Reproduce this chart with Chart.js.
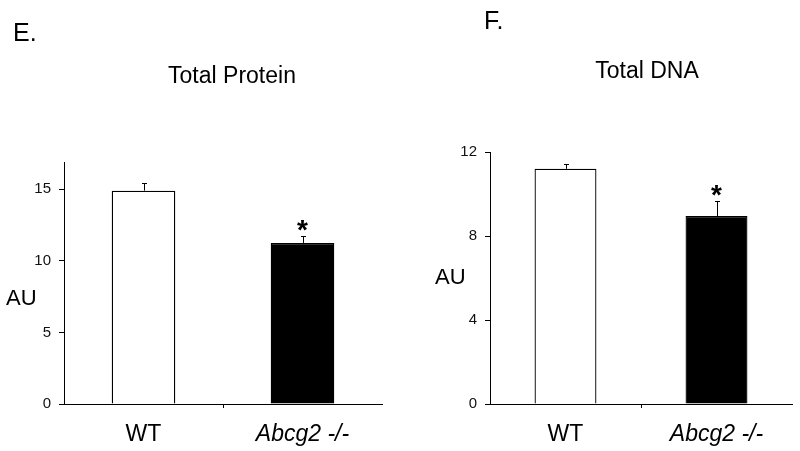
<!DOCTYPE html>
<html lang="en">
<head>
  <meta charset="UTF-8">
  <title>Total Protein / Total DNA</title>
  <script src="https://cdn.jsdelivr.net/npm/chart.js"></script>
  <style>
    body {
      margin: 0;
      background: #fff;
      font-family: "Liberation Sans", Arial, sans-serif;
    }
    .figure {
      position: relative;
      width: 800px;
      height: 451px;
      overflow: hidden;
    }
    .figure canvas {
      position: absolute;
      top: 0;
    }
    .txt {
      position: absolute;
      white-space: nowrap;
      color: #000;
    }
    .panel { font-size: 25px; line-height: 25px; }
    .title { font-size: 23px; line-height: 23px; transform: translateX(-50%); }
    .au { font-size: 22px; line-height: 22px; }
  </style>
</head>
<body>
  <div class="figure">
    <canvas id="proteinChart" width="400" height="451" style="left:0"></canvas>
    <canvas id="dnaChart" width="400" height="451" style="left:400px"></canvas>

    <div class="txt panel" style="left:13px; top:20px">E.</div>
    <div class="txt panel" style="left:484px; top:8px">F.</div>
    <div class="txt title" style="left:232px; top:64px">Total Protein</div>
    <div class="txt title" style="left:647px; top:59px">Total DNA</div>
    <div class="txt au" style="left:6px; top:287px">AU</div>
    <div class="txt au" style="left:435px; top:266px">AU</div>
  </div>

  <script>
    // values
    const categories = ['WT', 'Abcg2 -/-'];
    const proteinValues = [14.9, 11.25];
    const proteinErrors = [0.55, 0.5];
    const dnaValues = [11.2, 8.95];
    const dnaErrors = [0.25, 0.72];
    const significant = [false, true];
    const proteinTicks = [0, 5, 10, 15];
    const dnaTicks = [0, 4, 8, 12];

    const fontFamily = '"Liberation Sans", Arial, sans-serif';

    // upper error bars and the asterisk above significant bars
    const errorBarPlugin = {
      id: 'errorBars',
      afterDatasetsDraw(chart, args, opts) {
        const ctx = chart.ctx;
        const meta = chart.getDatasetMeta(0);
        const y = chart.scales.y;
        ctx.save();
        ctx.strokeStyle = '#000';
        ctx.lineWidth = 1;
        meta.data.forEach((bar, i) => {
          const top = y.getPixelForValue(opts.values[i]);
          const errTop = y.getPixelForValue(opts.values[i] + opts.errors[i]);
          const x = Math.round(bar.x) + 0.5;
          ctx.beginPath();
          ctx.moveTo(x, top);
          ctx.lineTo(x, Math.round(errTop) + 0.5);
          ctx.moveTo(x - 2.5, Math.round(errTop) + 0.5);
          ctx.lineTo(x + 2.5, Math.round(errTop) + 0.5);
          ctx.stroke();
          if (significant[i]) {
            ctx.fillStyle = '#000';
            ctx.font = 'bold 28px ' + fontFamily;
            ctx.textAlign = 'center';
            ctx.textBaseline = 'alphabetic';
            ctx.fillText('*', bar.x, errTop + 3);
          }
        });
        ctx.restore();
      }
    };

    function makeChart(id, values, errors, tickValues, yMax, padding, yWidth, barPct) {
      return new Chart(document.getElementById(id), {
        type: 'bar',
        data: {
          labels: categories,
          datasets: [{
            data: values,
            backgroundColor: ['#ffffff', '#000000'],
            borderColor: '#000000',
            borderWidth: 1.3,
            categoryPercentage: 1,
            barPercentage: barPct
          }]
        },
        options: {
          responsive: false,
          animation: false,
          layout: { padding: padding },
          plugins: {
            legend: { display: false },
            tooltip: { enabled: false },
            errorBars: { values: values, errors: errors }
          },
          scales: {
            x: {
              afterFit: s => { s.height = 47; },
              border: { display: true, color: '#000', width: 1 },
              grid: {
                drawOnChartArea: false,
                drawTicks: true,
                tickLength: 4,
                color: c => c.index === 1 ? '#000' : 'rgba(0,0,0,0)'
              },
              ticks: {
                color: '#000',
                padding: 13,
                font: c => ({
                  family: fontFamily,
                  size: 23,
                  style: c.index === 1 ? 'italic' : 'normal'
                })
              }
            },
            y: {
              min: 0,
              max: yMax,
              afterFit: s => { s.width = yWidth; },
              afterBuildTicks: s => { s.ticks = tickValues.map(v => ({ value: v })); },
              border: { display: true, color: '#000', width: 1 },
              grid: {
                drawOnChartArea: false,
                drawTicks: true,
                tickLength: 5,
                color: '#000'
              },
              ticks: {
                color: '#111',
                padding: 8,
                font: { family: fontFamily, size: 15 }
              }
            }
          }
        },
        plugins: [errorBarPlugin]
      });
    }

    makeChart('proteinChart', proteinValues, proteinErrors, proteinTicks, 16.9,
      { left: 0, right: 18, top: 162, bottom: 0 }, 64, 0.4);
    makeChart('dnaChart', dnaValues, dnaErrors, dnaTicks, 12,
      { left: 0, right: 8, top: 152, bottom: 0 }, 90, 0.41);
  </script>
</body>
</html>
